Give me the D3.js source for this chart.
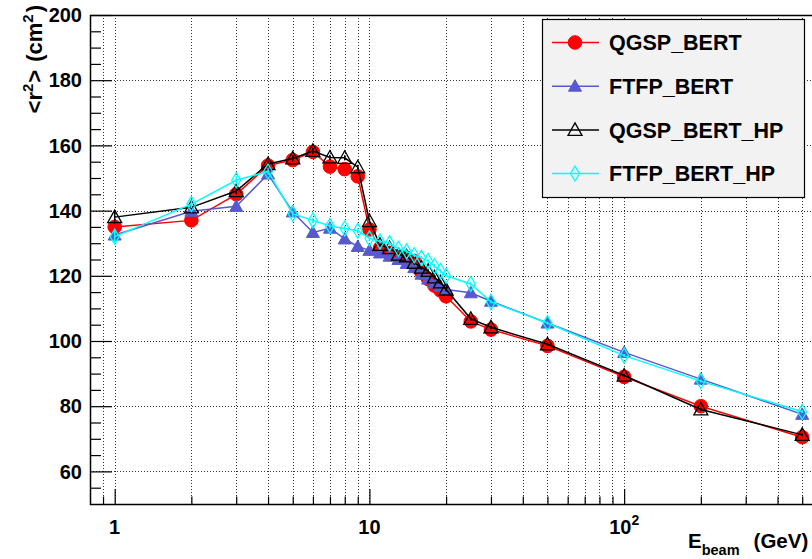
<!DOCTYPE html>
<html>
<head>
<meta charset="utf-8">
<script src="https://cdn.jsdelivr.net/npm/d3@7/dist/d3.min.js"></script>
<style>
  html, body { margin: 0; padding: 0; background: #fff; }
  svg { display: block; font-family: "Liberation Sans", Arial, Helvetica, sans-serif; font-weight: bold; }
</style>
</head>
<body>
<svg id="chart" width="812" height="559"></svg>
<script>
// Beam energies (GeV)
const energies = [1, 2, 3, 4, 5, 6, 7, 8, 9, 10, 11, 12, 13, 14, 15, 16, 17, 18, 19, 20, 25, 30, 50, 100, 200, 500];

// Mean square shower radius <r^2> (cm^2) for each physics list
const qgspBert   = [135, 137, 145, 153.8, 155.5, 158, 153.5, 152.7, 150.5, 134.2, 128.5, 127, 126, 125.5, 124.5, 121, 119, 117, 115.5, 113.7, 106, 103.5, 98.5, 89, 80, 70.5];
const ftfpBert   = [132.5, 139.8, 141.3, 151.2, 139.6, 133.3, 134.6, 131.3, 129, 127.8, 127, 126, 125, 123.8, 122.5, 120.5, 119, 117.8, 116.8, 115.8, 114.8, 112.2, 105.5, 96.5, 88.3, 77.5];
const qgspBertHp = [138, 141, 146, 154.3, 156, 158.3, 156.3, 156.2, 153.3, 136.8, 129.5, 128.5, 126.5, 126, 124, 122.5, 121.5, 119.5, 118, 115.8, 106.8, 104.2, 99, 89.4, 79, 71.2];
const ftfpBertHp = [132, 142, 149.3, 152, 139, 137, 135.3, 134.5, 133.8, 131.5, 130.5, 130, 128.3, 127.5, 126.3, 125.5, 124.5, 123, 121.5, 120, 117.5, 112, 105.5, 95.5, 87.7, 78.3];

// Statistical uncertainties (cm^2)
const qgspBertErr   = [1.2, 1.0, 1.0, 1.0, 1.0, 1.0, 0.8, 0.8, 0.8, 0.8, 0.6, 0.6, 0.6, 0.6, 0.6, 0.6, 0.6, 0.6, 0.6, 0.6, 0.5, 0.5, 0.5, 0.5, 0.5, 0.5];
const ftfpBertErr   = [1.5, 1.0, 1.0, 1.0, 1.0, 0.8, 0.8, 0.8, 0.8, 0.8, 0.6, 0.6, 0.6, 0.6, 0.6, 0.6, 0.6, 0.6, 0.6, 0.6, 0.5, 0.5, 0.5, 0.5, 0.5, 0.5];
const qgspBertHpErr = [2.0, 1.0, 1.0, 1.0, 1.0, 1.0, 0.8, 0.8, 0.8, 0.8, 0.6, 0.6, 0.6, 0.6, 0.6, 0.6, 0.6, 0.6, 0.6, 0.6, 0.5, 0.5, 0.5, 0.5, 0.5, 0.5];
const ftfpBertHpErr = [2.0, 1.2, 1.2, 1.0, 1.0, 0.8, 0.8, 0.8, 0.8, 0.8, 0.6, 0.6, 0.6, 0.6, 0.6, 0.6, 0.6, 0.6, 0.6, 0.6, 0.5, 0.5, 0.5, 0.5, 0.5, 0.5];

const seriesNames  = ["QGSP_BERT", "FTFP_BERT", "QGSP_BERT_HP", "FTFP_BERT_HP"];
const seriesColors = ["#ff0000", "#5959cf", "#000000", "#00ffff"];
const seriesMarker = ["circle", "triangleFilled", "triangleOpen", "diamondOpen"];

// Axis tick values
const xMajorTicks = [1, 10, 100];
const xMinorTicks = [0.9, 2, 3, 4, 5, 6, 7, 8, 9, 20, 30, 40, 50, 60, 70, 80, 90, 200, 300, 400, 500, 600];
const yMajorTicks = [60, 80, 100, 120, 140, 160, 180, 200];
const yMinorTicks = [55, 65, 70, 75, 85, 90, 95, 105, 110, 115, 125, 130, 135, 145, 150, 155, 165, 170, 175, 185, 190, 195];

const series = [
  { values: qgspBert,   err: qgspBertErr },
  { values: ftfpBert,   err: ftfpBertErr },
  { values: qgspBertHp, err: qgspBertHpErr },
  { values: ftfpBertHp, err: ftfpBertHpErr }
].map((s, i) => ({
  name: seriesNames[i], color: seriesColors[i], marker: seriesMarker[i],
  points: energies.map((e, j) => ({ e, v: s.values[j], err: s.err[j] }))
}));

const svg = d3.select("#chart");
const frame = { left: 90, top: 15, right: 826, bottom: 504 };

const x = d3.scaleLog().domain([0.8, 620]).range([frame.left, frame.right]);
const y = d3.scaleLinear().domain([50, 200]).range([frame.bottom, frame.top]);

// Grid lines (dotted)
const grid = svg.append("g").attr("stroke", "#333").attr("stroke-width", 1).attr("stroke-dasharray", "1,2");
grid.selectAll("line.gx").data(xMajorTicks.concat(xMinorTicks)).join("line")
  .attr("x1", d => Math.round(x(d)) + 0.5).attr("x2", d => Math.round(x(d)) + 0.5)
  .attr("y1", frame.top).attr("y2", frame.bottom);
grid.selectAll("line.gy").data(yMajorTicks.filter(d => d < 200)).join("line")
  .attr("x1", frame.left).attr("x2", frame.right)
  .attr("y1", d => Math.round(y(d)) + 0.5).attr("y2", d => Math.round(y(d)) + 0.5);

// Axes drawn inward (ticks point into the frame)
const xAxisMajor = d3.axisTop(x).tickValues(xMajorTicks).tickSize(15).tickFormat("");
const xAxisMinor = d3.axisTop(x).tickValues(xMinorTicks).tickSize(7.5).tickFormat("");
const yAxisMajor = d3.axisRight(y).tickValues(yMajorTicks).tickSize(22).tickFormat("");
const yAxisMinor = d3.axisRight(y).tickValues(yMinorTicks).tickSize(11).tickFormat("");

function styleAxis(g) {
  g.select(".domain").remove();
  g.selectAll("line").attr("stroke", "#000").attr("stroke-width", 1.2);
}
svg.append("g").attr("transform", `translate(0,${frame.bottom})`).call(xAxisMajor).call(styleAxis);
svg.append("g").attr("transform", `translate(0,${frame.bottom})`).call(xAxisMinor).call(styleAxis);
svg.append("g").attr("transform", `translate(${frame.left},0)`).call(yAxisMajor).call(styleAxis);
svg.append("g").attr("transform", `translate(${frame.left},0)`).call(yAxisMinor).call(styleAxis);

// Frame
svg.append("path")
  .attr("d", `M${frame.right},${frame.top + 0.5}H${frame.left + 0.5}V${frame.bottom + 0.5}H${frame.right}`)
  .attr("fill", "none").attr("stroke", "#000").attr("stroke-width", 1.5);

// Tick labels
svg.append("g").selectAll("text").data(yMajorTicks).join("text")
  .attr("x", 82).attr("y", d => y(d)).attr("dy", "0.36em")
  .attr("text-anchor", "end").attr("font-size", 20).text(d => d);

const xl = svg.append("g").selectAll("text").data(xMajorTicks).join("text")
  .attr("x", d => x(d)).attr("y", 534).attr("text-anchor", "middle").attr("font-size", 20);
xl.each(function(d) {
  const t = d3.select(this);
  if (d >= 100) {
    t.append("tspan").text("10");
    t.append("tspan").attr("font-size", 14).attr("dy", -9).text(Math.round(Math.log10(d)));
  } else {
    t.text(d);
  }
});

// Axis titles
const xt = svg.append("text").attr("x", 688).attr("y", 548).attr("font-size", 20.5);
xt.append("tspan").text("E");
xt.append("tspan").attr("font-size", 14.5).attr("dy", 7).text("beam");
xt.append("tspan").attr("dy", -7).attr("dx", 14).text("(GeV)");

const yt = svg.append("text").attr("transform", "translate(42,5) rotate(-90)")
  .attr("text-anchor", "end").attr("font-size", 22);
yt.append("tspan").text("<r");
yt.append("tspan").attr("font-size", 15).attr("dy", -9).text("2");
yt.append("tspan").attr("dy", 9).attr("dx", 1).text(">");
yt.append("tspan").attr("dx", 8).text("(cm");
yt.append("tspan").attr("font-size", 15).attr("dy", -9).text("2");
yt.append("tspan").attr("dy", 9).attr("dx", 2).text(")");

// Marker drawing
function drawMarker(sel, type, color) {
  if (type === "circle") {
    sel.append("circle").attr("r", 6.8).attr("fill", color).attr("stroke", color).attr("stroke-width", 1);
  } else if (type === "triangleFilled") {
    sel.append("path").attr("d", "M0,-6.5L6.5,5L-6.5,5Z").attr("fill", color).attr("stroke", color).attr("stroke-width", 1);
  } else if (type === "triangleOpen") {
    sel.append("path").attr("d", "M0,-7L7,5.5L-7,5.5Z").attr("fill", "none").attr("stroke", color).attr("stroke-width", 1.3);
  } else if (type === "diamondOpen") {
    sel.append("path").attr("d", "M0,-7.5L4.5,0L0,7.5L-4.5,0Z").attr("fill", "none").attr("stroke", color).attr("stroke-width", 1.3);
  }
}

// Series: line, error bars, markers
const line = d3.line().x(d => x(d.e)).y(d => y(d.v));
const plot = svg.append("g");
series.forEach(s => {
  const g = plot.append("g");
  g.append("path").datum(s.points).attr("d", line)
    .attr("fill", "none").attr("stroke", s.color).attr("stroke-width", 1.5);
  g.selectAll("line.err").data(s.points).join("line")
    .attr("x1", d => x(d.e)).attr("x2", d => x(d.e))
    .attr("y1", d => y(d.v - d.err)).attr("y2", d => y(d.v + d.err))
    .attr("stroke", s.color).attr("stroke-width", 1.5);
  g.selectAll("g.m").data(s.points).join("g")
    .attr("transform", d => `translate(${x(d.e)},${y(d.v)})`)
    .each(function() { drawMarker(d3.select(this), s.marker, s.color); });
});

// Legend
const legend = svg.append("g");
legend.append("rect").attr("x", 542.5).attr("y", 19.5).attr("width", 262).attr("height", 178)
  .attr("fill", "#f2f2f2").attr("stroke", "#000").attr("stroke-width", 1.2);
series.forEach((s, i) => {
  const cy = 42.5 + i * 43.7;
  const row = legend.append("g").attr("transform", `translate(0,${cy})`);
  row.append("line").attr("x1", 552).attr("x2", 599).attr("y1", 0).attr("y2", 0)
    .attr("stroke", s.color).attr("stroke-width", 1.5);
  const m = row.append("g").attr("transform", "translate(575,0)");
  drawMarker(m, s.marker, s.color);
  row.append("text").attr("x", 609).attr("y", 0).attr("dy", "0.36em")
    .attr("font-size", 21.5).text(s.name);
});
</script>
</body>
</html>
